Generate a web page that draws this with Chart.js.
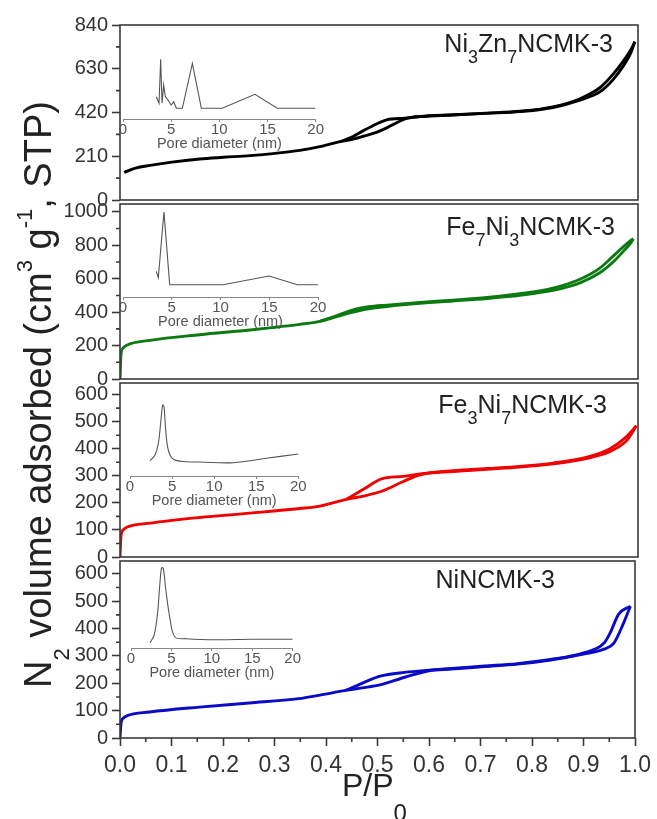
<!DOCTYPE html>
<html>
<head>
<meta charset="utf-8">
<script src="https://cdn.jsdelivr.net/npm/chart.js@4.4.0/dist/chart.umd.min.js"></script>
<style>
  html, body { margin:0; padding:0; background:#fff; }
  body { width:657px; height:819px; overflow:hidden; position:relative; font-family:"Liberation Sans", Arial, sans-serif; }
  canvas { position:absolute; }
  .lbl { position:absolute; font-size:25px; line-height:25px; color:#222; white-space:nowrap; }
  .sb { font-size:72%; position:relative; top:0.6em; line-height:0; }
  #ytitle { position:absolute; left:19px; top:688px; width:720px; height:38px; line-height:38px; font-size:38px; color:#222;
            transform-origin:0 0; transform:rotate(-90deg); white-space:nowrap; }
  #ytitle .sb2 { font-size:58%; position:relative; top:0.8em; line-height:0; }
  #ytitle .sp2 { font-size:58%; position:relative; top:-0.85em; line-height:0; }
  #xtitle { position:absolute; left:342px; top:769px; font-size:32px; line-height:32px; color:#222; white-space:nowrap; }
  #xtitle .sb3 { font-size:75%; position:relative; top:1.05em; line-height:0; }
</style>
</head>
<body>
<div id="ytitle">N<span class="sb2">2</span> volume adsorbed (cm<span class="sp2">3</span> g<span class="sp2">-1</span>, STP)</div>
<div id="xtitle">P/P<span class="sb3">0</span></div>
<div class="lbl" style="right:44px; top:31px;">Ni<span class="sb">3</span>Zn<span class="sb">7</span>NCMK-3</div>
<div class="lbl" style="right:42px; top:214px;">Fe<span class="sb">7</span>Ni<span class="sb">3</span>NCMK-3</div>
<div class="lbl" style="right:50px; top:392px;">Fe<span class="sb">3</span>Ni<span class="sb">7</span>NCMK-3</div>
<div class="lbl" style="right:102px; top:567px;">NiNCMK-3</div>
<script>
// ---------------- DATA ----------------
const pressureTicks = [0.0, 0.1, 0.2, 0.3, 0.4, 0.5, 0.6, 0.7, 0.8, 0.9, 1.0];
const pressureMinorTicks = [0.05, 0.15, 0.25, 0.35, 0.45, 0.55, 0.65, 0.75, 0.85, 0.95];

// Panel 1: Ni3Zn7NCMK-3
const niZnTicks = [0, 210, 420, 630, 840];
const niZnMinor = [105, 315, 525, 735];
const niZnAdsP = [0.008,0.03,0.058,0.1,0.154,0.2,0.251,0.3,0.347,0.386,0.405,0.425,0.45,0.47,0.495,0.515,0.535,0.55,0.579,0.643,0.708,0.772,0.836,0.888,0.927,0.952,0.972,0.985,0.994];
const niZnAdsV = [133,153,166,182,197,205,213,224,238,256,268,280,292,306,325,346,372,390,400,408,416,424,444,479,520,578,645,700,760];
const niZnDesP = [0.994,0.985,0.972,0.952,0.927,0.888,0.836,0.772,0.708,0.643,0.579,0.55,0.515,0.495,0.47,0.45,0.425];
const niZnDesV = [760,716,668,604,540,486,447,426,417,409,401,393,385,365,333,305,280];

// Panel 2: Fe7Ni3NCMK-3
const fe7Ticks = [0, 200, 400, 600, 800, 1000];
const fe7Minor = [100, 300, 500, 700, 900];
const fe7AdsP = [0,0.002,0.006,0.013,0.058,0.154,0.251,0.3,0.347,0.386,0.42,0.45,0.48,0.515,0.579,0.643,0.708,0.772,0.836,0.888,0.927,0.952,0.972,0.985,0.991];
const fe7AdsV = [0,150,185,202,231,265,293,310,327,345,375,400,420,434,453,467,482,501,530,575,637,700,765,810,839];
const fe7DesP = [0.991,0.985,0.972,0.952,0.927,0.888,0.836,0.772,0.708,0.643,0.579,0.515,0.48,0.45,0.42,0.386];
const fe7DesV = [839,826,792,735,665,597,544,510,488,472,458,442,432,414,380,345];

// Panel 3: Fe3Ni7NCMK-3
const fe3Ticks = [0, 100, 200, 300, 400, 500, 600];
const fe3Minor = [50, 150, 250, 350, 450, 550];
const fe3AdsP = [0,0.002,0.006,0.013,0.058,0.154,0.251,0.347,0.386,0.437,0.47,0.505,0.547,0.579,0.643,0.708,0.772,0.836,0.9,0.946,0.978,0.997];
const fe3AdsV = [0,80,100,110,125,146,162,179,188,213,225,243,279,304,316,324,332,344,364,390,430,485];
const fe3DesP = [0.997,0.978,0.946,0.9,0.836,0.772,0.708,0.643,0.579,0.547,0.505,0.47,0.437];
const fe3DesV = [485,445,400,368,347,335,327,319,307,298,289,250,213];

// Panel 4: NiNCMK-3
const niTicks = [0, 100, 200, 300, 400, 500, 600];
const niMinor = [50, 150, 250, 350, 450, 550];
const niAdsP = [0,0.002,0.006,0.013,0.058,0.154,0.251,0.347,0.386,0.438,0.47,0.505,0.553,0.6,0.643,0.708,0.772,0.836,0.9,0.94,0.959,0.978,0.991];
const niAdsV = [0,55,72,81,95,113,128,144,156,174,183,194,222,246,252,261,270,285,307,325,347,421,482];
const niDesP = [0.991,0.968,0.952,0.94,0.9,0.836,0.772,0.708,0.643,0.6,0.553,0.505,0.47,0.438];
const niDesV = [482,452,385,347,311,287,272,263,254,248,240,226,200,174];

// Insets: pore size distribution (pore diameter nm, dV/dD a.u.)
const poreTicks = [0, 5, 10, 15, 20];
const psd1D = [3.46,3.74,3.91,4.05,4.22,4.39,4.67,5.0,5.26,5.54,6.16,7.2,8.13,10.3,13.7,16.0,20.0];
const psd1V = [22.3,15.7,59.7,15.7,34,22.3,19,14,17.3,10.7,10.7,55.7,10.7,10.7,24.7,10.7,10.7];
const psd2D = [3.42,3.62,4.2,4.79,10.26,14.97,17.88,20];
const psd2V = [25.7,19.3,85,12.3,12.3,21,12.3,12.3];
const psd3D = [2.38,2.97,3.37,3.64,3.88,4.04,4.24,4.55,5.15,6.73,8.3,12.3,16.2,20];
const psd3V = [15.3,21,32.7,52.7,71,69.3,46,26,16.7,14.3,14,13.3,17.7,22];
const psd4D = [2.35,2.85,3.26,3.59,3.79,4.0,4.29,4.82,5.44,6.89,10.6,14.7,20];
const psd4V = [5.3,12.7,32.7,66,80.3,79.3,59.3,29.3,11,9.3,8.3,8.7,8.7];

// ---------------- DRAWING ----------------
const FONT = '"Liberation Sans", Arial, sans-serif';
Chart.defaults.font.family = FONT;

function pts(xs, ys) { return xs.map((x, i) => ({ x: x, y: ys[i] })); }

function makeCanvas(left, top, w, h) {
  const c = document.createElement('canvas');
  c.width = w; c.height = h;
  c.style.left = left + 'px'; c.style.top = top + 'px';
  c.style.width = w + 'px'; c.style.height = h + 'px';
  document.body.appendChild(c);
  return c;
}

const framePlugin = {
  id: 'frame',
  afterDatasetsDraw(chart, args, o) {
    const ctx = chart.ctx, a = chart.chartArea;
    ctx.save();
    ctx.strokeStyle = o.color; ctx.lineWidth = o.width;
    (o.minor || []).forEach(m => {
      const s = chart.scales[m.axis];
      ctx.beginPath();
      m.values.forEach(v => {
        const p = s.getPixelForValue(v);
        if (m.axis === 'y') { ctx.moveTo(a.left - m.len, p); ctx.lineTo(a.left, p); }
        else { ctx.moveTo(p, a.bottom); ctx.lineTo(p, a.bottom + m.len); }
      });
      ctx.stroke();
    });
    ctx.strokeRect(a.left, a.top, a.right - a.left, a.bottom - a.top);
    ctx.restore();
  }
};

const PAD = 14;
function mainPanel(p) {
  const panelH = p.bottom - p.top;
  const xH = p.xAxis ? 52 : 0;
  const cv = makeCanvas(0, p.top - PAD, 657, panelH + PAD + (p.xAxis ? xH : PAD));
  const minor = [{ axis: 'y', values: p.minor, len: 4 }];
  if (p.xAxis) minor.push({ axis: 'x', values: pressureMinorTicks, len: 4 });
  new Chart(cv, {
    type: 'scatter',
    data: { datasets: [
      { data: pts(p.adsP, p.adsV), showLine: true, borderColor: p.color, borderWidth: 2.9, pointRadius: 0, cubicInterpolationMode: 'monotone', fill: false },
      { data: pts(p.desP, p.desV), showLine: true, borderColor: p.color, borderWidth: 2.9, pointRadius: 0, cubicInterpolationMode: 'monotone', fill: false }
    ]},
    options: {
      responsive: false, animation: false, events: [],
      layout: { padding: { left: 0, right: 19, top: PAD, bottom: p.xAxis ? 0 : PAD } },
      plugins: { legend: { display: false }, tooltip: { enabled: false },
                 frame: { color: '#3a3a3a', width: 1.6, minor: minor } },
      scales: {
        x: {
          type: 'linear', min: 0, max: 1, display: p.xAxis,
          afterBuildTicks(s) { s.ticks = pressureTicks.map(v => ({ value: v })); },
          afterFit(s) { s.height = xH; },
          grid: { drawOnChartArea: false, drawTicks: true, tickLength: 8, tickColor: '#3a3a3a', tickWidth: 1.6 },
          border: { display: false },
          ticks: { autoSkip: false, maxRotation: 0, padding: 6, color: '#333',
                   font: { size: 23, lineHeight: 1.2 }, callback: v => v.toFixed(1) }
        },
        y: {
          type: 'linear', min: 0, max: p.yMax, position: 'left',
          afterBuildTicks(s) { s.ticks = p.ticks.map(v => ({ value: v })); },
          afterFit(s) { s.width = 120; },
          grid: { drawOnChartArea: false, drawTicks: true, tickLength: 8, tickColor: '#3a3a3a', tickWidth: 1.6 },
          border: { display: false },
          ticks: { padding: 4, color: '#333', font: { size: 20 }, callback: v => String(v) }
        }
      }
    },
    plugins: [framePlugin]
  });
}

function inset(s) {
  const areaH = s.yMax;
  const padL = 12, padR = 14, padT = 4, padB = 4, xH = 32;
  const cv = makeCanvas(Math.round(s.x0 - padL), Math.round(s.axisY - areaH - padT),
                        Math.round(s.x1 - s.x0 + padL + padR), Math.round(areaH + padT + xH + padB));
  new Chart(cv, {
    type: 'scatter',
    data: { datasets: [{ data: pts(s.d, s.v), showLine: true, borderColor: '#555', borderWidth: 1.1,
                         pointRadius: 0, tension: s.smooth ? 0.35 : 0, fill: false }] },
    options: {
      responsive: false, animation: false, events: [],
      layout: { padding: { left: padL, right: cv.width - padL - (s.x1 - s.x0), top: padT, bottom: padB } },
      plugins: { legend: { display: false }, tooltip: { enabled: false } },
      scales: {
        x: {
          type: 'linear', min: 0, max: 20,
          afterBuildTicks(sc) { sc.ticks = poreTicks.map(v => ({ value: v })); },
          afterFit(sc) { sc.height = xH; },
          grid: { drawOnChartArea: false, drawTicks: true, tickLength: 3, tickColor: '#888', tickWidth: 1 },
          border: { display: true, color: '#888', width: 1 },
          ticks: { autoSkip: false, maxRotation: 0, padding: 0, color: '#555', font: { size: 15, lineHeight: 1 } },
          title: { display: true, text: 'Pore diameter (nm)', color: '#555', padding: 0, font: { size: 14.5, lineHeight: 1 } }
        },
        y: { display: false, min: 0, max: s.yMax }
      }
    }
  });
}

mainPanel({ top: 23, bottom: 202, yMax: 840, ticks: niZnTicks, minor: niZnMinor, color: '#000000',
            adsP: niZnAdsP, adsV: niZnAdsV, desP: niZnDesP, desV: niZnDesV, xAxis: false });
mainPanel({ top: 202, bottom: 381, yMax: 1047, ticks: fe7Ticks, minor: fe7Minor, color: '#0b7a10',
            adsP: fe7AdsP, adsV: fe7AdsV, desP: fe7DesP, desV: fe7DesV, xAxis: false });
mainPanel({ top: 381, bottom: 559, yMax: 643, ticks: fe3Ticks, minor: fe3Minor, color: '#f00000',
            adsP: fe3AdsP, adsV: fe3AdsV, desP: fe3DesP, desV: fe3DesV, xAxis: false });
mainPanel({ top: 559, bottom: 738, yMax: 647, ticks: niTicks, minor: niMinor, color: '#0a0ac8',
            adsP: niAdsP, adsV: niAdsV, desP: niDesP, desV: niDesV, xAxis: true });

inset({ x0: 123.3, x1: 316, axisY: 119, yMax: 65, d: psd1D, v: psd1V, smooth: false });
inset({ x0: 123.3, x1: 318.3, axisY: 297, yMax: 90, d: psd2D, v: psd2V, smooth: false });
inset({ x0: 130, x1: 298.3, axisY: 476, yMax: 76, d: psd3D, v: psd3V, smooth: true });
inset({ x0: 131, x1: 292.7, axisY: 648, yMax: 85, d: psd4D, v: psd4V, smooth: true });

// bring text overlays to front
['ytitle', 'xtitle'].forEach(id => document.body.appendChild(document.getElementById(id)));
document.querySelectorAll('.lbl').forEach(el => document.body.appendChild(el));
</script>
</body>
</html>
